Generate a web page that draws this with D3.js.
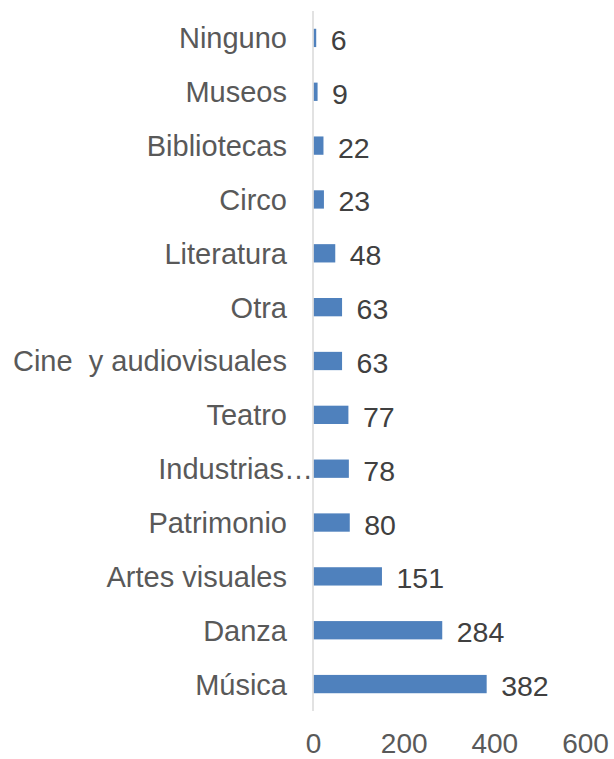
<!DOCTYPE html>
<html>
<head>
<meta charset="utf-8">
<script src="https://cdn.jsdelivr.net/npm/d3@7"></script>
<style>
  body { margin: 0; background: #fff; }
  svg { display: block; font-family: "Liberation Sans", Arial, sans-serif; }
  text { white-space: pre; }
</style>
</head>
<body>
<div id="chart"></div>
<script>
const categories = ["Ninguno", "Museos", "Bibliotecas", "Circo", "Literatura", "Otra",
    "Cine  y audiovisuales", "Teatro", "Industrias…", "Patrimonio", "Artes visuales", "Danza", "Música"];
const values = [6, 9, 22, 23, 48, 63, 63, 77, 78, 80, 151, 284, 382];
const xTicks = [0, 200, 400, 600];

const width = 614;
const height = 759;
const margin = { top: 11, right: 29, bottom: 48, left: 313 };
const innerW = width - margin.left - margin.right;
const innerH = height - margin.top - margin.bottom;

const data = categories.map((c, i) => ({ label: c, value: values[i] }));

const svg = d3.select("#chart")
    .append("svg")
    .attr("width", width)
    .attr("height", height);

const g = svg.append("g")
    .attr("transform", `translate(${margin.left}, ${margin.top})`);

const x = d3.scaleLinear()
    .domain([0, 600])
    .range([0, innerW]);

const y = d3.scaleBand()
    .domain(categories)
    .range([0, innerH])
    .paddingInner(0.66)
    .paddingOuter(0.33);

// bars
g.selectAll(".bar")
    .data(data)
    .enter().append("rect")
    .attr("class", "bar")
    .attr("x", 0.5)
    .attr("y", d => y(d.label))
    .attr("width", d => x(d.value))
    .attr("height", y.bandwidth())
    .attr("fill", "#4f81bd");

// vertical axis line
g.append("line")
    .attr("x1", 0).attr("x2", 0)
    .attr("y1", 0).attr("y2", innerH)
    .attr("stroke", "#d9d9d9")
    .attr("stroke-width", 1.5);

// category labels
g.selectAll(".cat")
    .data(data)
    .enter().append("text")
    .attr("class", "cat")
    .attr("x", d => d.label.endsWith("…") ? 0 : -26)
    .attr("y", d => y(d.label) + y.bandwidth() / 2)
    .attr("dy", "0.36em")
    .attr("text-anchor", "end")
    .attr("fill", "#595959")
    .style("font-size", "29px")
    .text(d => d.label);

// value labels
g.selectAll(".val")
    .data(data)
    .enter().append("text")
    .attr("class", "val")
    .attr("x", d => x(d.value) + 15)
    .attr("y", d => y(d.label) + y.bandwidth() / 2)
    .attr("dy", "0.42em")
    .attr("fill", "#404040")
    .style("font-size", "28.5px")
    .text(d => d.value);

// x axis tick labels (no line)
const xAxis = g.append("g")
    .attr("transform", `translate(0, ${innerH})`)
    .call(d3.axisBottom(x).tickValues(xTicks).tickSize(0).tickPadding(22));
xAxis.select(".domain").remove();
xAxis.selectAll("text")
    .attr("fill", "#595959")
    .style("font-size", "28px")
    .style("font-family", "Liberation Sans, Arial, sans-serif");
</script>
</body>
</html>
